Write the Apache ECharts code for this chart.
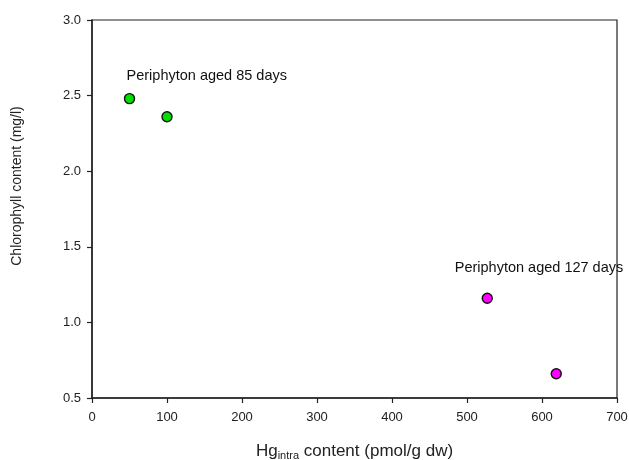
<!DOCTYPE html>
<html><head><meta charset="utf-8">
<script src="https://cdn.jsdelivr.net/npm/echarts@6/dist/echarts.min.js"></script>
<style>html,body{margin:0;padding:0;background:#fff}#c{width:629px;height:460px}</style>
</head><body><div id="c"></div>
<script>
var aged85X = [50, 100];
var aged85Y = [2.48, 2.36];
var aged127X = [527, 619];
var aged127Y = [1.16, 0.66];
var annotationText = ['Periphyton aged 85 days', 'Periphyton aged 127 days'];
var annotationX = [153, 596];
var annotationY = [2.63, 1.36];
var xTicks = [0, 100, 200, 300, 400, 500, 600, 700];
var yTicks = [0.5, 1.0, 1.5, 2.0, 2.5, 3.0];

var font = 'Liberation Sans, Arial, sans-serif';
function pts(xs, ys){ return xs.map(function(x,i){return [x, ys[i]];}); }
var chart = echarts.init(document.getElementById('c'));
chart.setOption({
  animation: false,
  grid: {left: 92, top: 20, right: 12, bottom: 62, show: true, borderColor: '#222', borderWidth: 1.2,
         containLabel: false, outerBoundsMode: 'none'},
  graphic: [{
    type: 'text', x: 17, y: 186, rotation: Math.PI / 2,
    style: {text: 'Chlorophyll content (mg/l)', fill: '#222', fontSize: 14, fontFamily: font,
            textAlign: 'center', textVerticalAlign: 'middle', align: 'center', verticalAlign: 'middle'}
  }],
  xAxis: {
    type: 'value', min: xTicks[0], max: xTicks[xTicks.length-1], interval: 100,
    axisLine: {show: true, onZero: false, lineStyle: {color: '#222', width: 1.5}},
    axisTick: {show: true, length: 5, lineStyle: {color: '#222', width: 1.2}},
    splitLine: {show: false},
    axisLabel: {color: '#222', fontFamily: font, fontSize: 13, margin: 13},
    name: 'Hg{sub|intra} content (pmol/g dw)',
    nameLocation: 'middle', nameGap: 43,
    nameTextStyle: {color: '#222', fontFamily: font, fontSize: 17,
      rich: {sub: {fontSize: 11, verticalAlign: 'bottom', padding: [9,0,0,0], color: '#222', fontFamily: font}}}
  },
  yAxis: {
    type: 'value', min: yTicks[0], max: yTicks[yTicks.length-1], interval: 0.5,
    axisLine: {show: true, onZero: false, lineStyle: {color: '#222', width: 1.5}},
    axisTick: {show: true, length: 5, lineStyle: {color: '#222', width: 1.2}},
    splitLine: {show: false},
    axisLabel: {color: '#222', fontFamily: font, fontSize: 13, margin: 11,
      formatter: function(v){return v.toFixed(1);}}
  },
  series: [
    {type: 'scatter', data: pts(aged85X, aged85Y), symbol: 'circle', symbolSize: 10,
     itemStyle: {color: '#00e000', opacity: 1, borderColor: '#111', borderWidth: 1.4}},
    {type: 'scatter', data: pts(aged127X, aged127Y), symbol: 'circle', symbolSize: 10,
     itemStyle: {color: '#ff00ff', opacity: 1, borderColor: '#111', borderWidth: 1.4}},
    {type: 'scatter', silent: true, symbolSize: 1, symbol: 'circle',
     itemStyle: {color: 'rgba(0,0,0,0)', borderWidth: 0},
     data: annotationText.map(function(t,i){return {value: [annotationX[i], annotationY[i]], name: t};}),
     label: {show: true, position: 'inside', formatter: '{b}', color: '#111', opacity: 1,
             fontFamily: font, fontSize: 14.5}}
  ]
});
</script></body></html>
